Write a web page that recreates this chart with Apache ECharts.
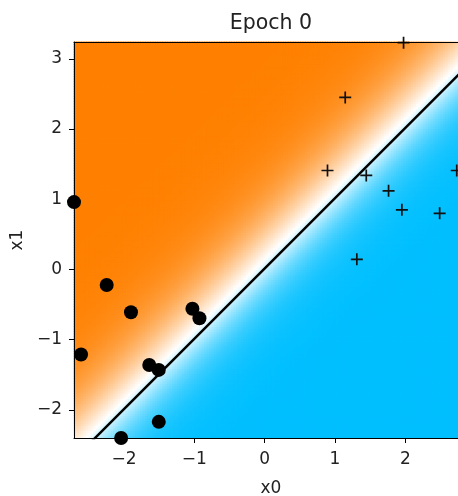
<!DOCTYPE html>
<html><head><meta charset="utf-8">
<script src="https://cdn.jsdelivr.net/npm/echarts@6/dist/echarts.min.js"></script>
<style>html,body{margin:0;padding:0;background:#fff;}#c{width:458px;height:496px;}</style>
</head><body><div id="c"></div>
<script>
// ---- data ----
const chartTitle = 'Epoch 0';
const xName = 'x0';
const yName = 'x1';
const xRange = [-2.71, 2.89];
const yRange = [-2.40, 3.24];
const xTicks = [-2, -1, 0, 1, 2];
const yTicks = [-2, -1, 0, 1, 2, 3];
// class 0 (filled circles)
const class0X0 = [-2.71, -2.245, -1.90, -1.027, -0.927, -2.61, -1.64, -1.505, -1.505, -2.04];
const class0X1 = [0.96, -0.22, -0.61, -0.56, -0.695, -1.21, -1.36, -1.43, -2.17, -2.40];
// class 1 (plus markers)
const class1X0 = [1.974, 1.145, 0.893, 1.444, 1.761, 1.95, 2.487, 2.73, 1.31];
const class1X1 = [3.23, 2.45, 1.41, 1.34, 1.12, 0.85, 0.80, 1.41, 0.145];
// decision boundary (two end points)
const boundaryX0 = [-2.71, 2.89];
const boundaryX1 = [-2.70, 2.91];
// model output profile across the boundary: logistic steepness per side and white-point offset
const steepOrange = 2.2;
const steepBlue = 3.0;
const whiteOffset = -0.12;

// ---- styles ----
const FONT = 'DejaVu Sans';
const ORANGE = [255, 128, 0], WHITE = [255, 255, 255], BLUE = [0, 191, 255];
const N = 160;

const slope = (boundaryX1[1] - boundaryX1[0]) / (boundaryX0[1] - boundaryX0[0]);
const icpt = boundaryX1[0] - slope * boundaryX0[0];
const hx = (xRange[1] - xRange[0]) / N / 2, hy = (yRange[1] - yRange[0]) / N / 2;
const field = [];
for (let i = 0; i < N; i++) {
  for (let j = 0; j < N; j++) {
    const x = xRange[0] + (2 * i + 1) * hx;
    const y = yRange[0] + (2 * j + 1) * hy;
    field.push([x, y, (slope * x + icpt) - y]);
  }
}
function mix(a, b, t) {
  return 'rgb(' + a.map((v, k) => Math.round(v + (b[k] - v) * t)).join(',') + ')';
}
function shade(d) {
  const z = d - whiteOffset;
  const p = 1 / (1 + Math.exp(-(z < 0 ? steepOrange : steepBlue) * z));
  return p <= 0.5 ? mix(ORANGE, WHITE, 2 * p) : mix(WHITE, BLUE, 2 * p - 1);
}
const fmt = v => String(v).replace('-', '\u2212');
const labelStyle = { fontSize: 17, color: '#222', fontFamily: FONT };

const chart = echarts.init(document.getElementById('c'), null, { renderer: 'canvas' });
chart.setOption({
  animation: false,
  backgroundColor: '#fff',
  title: {
    text: chartTitle, left: 271, top: 13, padding: 0, textAlign: 'center',
    textStyle: { fontSize: 20.5, fontWeight: 'normal', color: '#222', fontFamily: FONT }
  },
  grid: { left: 74, top: 42, width: 394, height: 396, containLabel: false, outerBoundsMode: 'none' },
  xAxis: [{
    type: 'value', min: xRange[0], max: xRange[1], position: 'bottom', z: 10,
    axisLine: { show: true, onZero: false, lineStyle: { color: '#000', width: 1 } },
    axisTick: { show: true, customValues: xTicks, length: 5, lineStyle: { color: '#000' } },
    axisLabel: Object.assign({ customValues: xTicks, formatter: fmt, margin: 13 }, labelStyle),
    splitLine: { show: false },
    name: xName, nameLocation: 'middle', nameGap: 42, nameTextStyle: labelStyle
  }, {
    type: 'value', min: xRange[0], max: xRange[1], position: 'top', z: 10,
    axisLine: { show: true, onZero: false, lineStyle: { color: '#000', width: 1 } },
    axisTick: { show: false }, axisLabel: { show: false }, splitLine: { show: false }
  }],
  yAxis: [{
    type: 'value', min: yRange[0], max: yRange[1], position: 'left', z: 10,
    axisLine: { show: true, onZero: false, lineStyle: { color: '#000', width: 1 } },
    axisTick: { show: true, customValues: yTicks, length: 5, lineStyle: { color: '#000' } },
    axisLabel: Object.assign({ customValues: yTicks, formatter: fmt, margin: 12 }, labelStyle),
    splitLine: { show: false },
    name: yName, nameLocation: 'middle', nameGap: 42, nameTextStyle: labelStyle
  }, {
    type: 'value', min: yRange[0], max: yRange[1], position: 'right', z: 10,
    axisLine: { show: true, onZero: false, lineStyle: { color: '#000', width: 1 } },
    axisTick: { show: false }, axisLabel: { show: false }, splitLine: { show: false }
  }],
  series: [{
    type: 'custom', z: 1, clip: true, silent: true,
    data: field,
    renderItem: function (params, api) {
      const x = api.value(0), y = api.value(1);
      const p0 = api.coord([x - hx, y + hy]);
      const p1 = api.coord([x + hx, y - hy]);
      return {
        type: 'rect',
        shape: { x: p0[0] - 0.4, y: p0[1] - 0.4, width: p1[0] - p0[0] + 0.8, height: p1[1] - p0[1] + 0.8 },
        style: { fill: shade(api.value(2)) }
      };
    }
  }, {
    type: 'line', z: 3, clip: true, symbol: 'none', silent: true,
    data: boundaryX0.map((v, i) => [v, boundaryX1[i]]),
    lineStyle: { color: '#000', width: 2.5 }
  }, {
    type: 'scatter', z: 4, clip: true, silent: true,
    symbol: 'circle', symbolSize: 14,
    itemStyle: { color: '#000', opacity: 1 },
    data: class0X0.map((v, i) => [v, class0X1[i]])
  }, {
    type: 'scatter', z: 4, clip: true, silent: true,
    symbol: 'path://M-0.85,-6H0.85V-0.85H6V0.85H0.85V6H-0.85V0.85H-6V-0.85H-0.85Z',
    symbolSize: 12,
    itemStyle: { color: '#111', opacity: 1 },
    data: class1X0.map((v, i) => [v, class1X1[i]])
  }]
});
</script></body></html>
